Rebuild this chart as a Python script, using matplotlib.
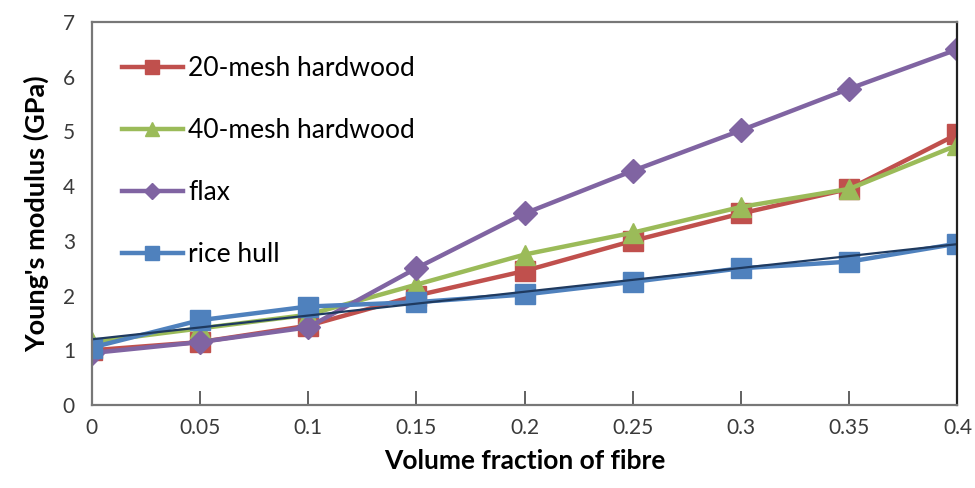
import matplotlib
matplotlib.use("Agg")
import matplotlib.pyplot as plt

fraction = [0, 0.05, 0.1, 0.15, 0.2, 0.25, 0.3, 0.35, 0.4]
mesh20 = [1.0, 1.15, 1.45, 2.0, 2.45, 3.0, 3.5, 3.95, 4.95]
mesh40 = [1.15, 1.4, 1.65, 2.2, 2.75, 3.15, 3.62, 3.95, 4.75]
flax = [0.95, 1.15, 1.42, 2.5, 3.5, 4.28, 5.02, 5.78, 6.5]
rice_hull = [1.05, 1.55, 1.8, 1.88, 2.02, 2.25, 2.5, 2.62, 2.95]
# linear trendline for rice hull
trend_x = [0, 0.4]
trend_y = [1.2, 2.94]

plt.rcParams['font.family'] = ['Lato', 'DejaVu Sans']

fig = plt.figure(figsize=(9.75, 4.88), dpi=100)
ax = fig.add_axes([0.094, 0.170, 0.888, 0.785])

ax.plot(fraction, mesh20, color='#C0504D', lw=3.2, marker='s', ms=14, label='20-mesh hardwood')
ax.plot(fraction, mesh40, color='#9BBB59', lw=3.2, marker='^', ms=15, label='40-mesh hardwood')
ax.plot(fraction, flax, color='#8064A2', lw=3.2, marker='D', ms=12, label='flax')
ax.plot(fraction, rice_hull, color='#4F81BD', lw=3.2, marker='s', ms=15, label='rice hull')
ax.plot(trend_x, trend_y, color='#1F3A5F', lw=1.6)

ax.set_xlim(0, 0.4)
ax.set_ylim(0, 7)
ax.set_xticks(fraction)
ax.set_xticklabels(['0', '0.05', '0.1', '0.15', '0.2', '0.25', '0.3', '0.35', '0.4'])
ax.set_yticks(range(8))
ax.tick_params(axis='x', direction='in', length=10, width=1.3, colors='#555555',
               labelsize=15, labelcolor='#3a3a3a', pad=9)
ax.tick_params(axis='y', length=0, labelsize=15, labelcolor='#3a3a3a', pad=12)
for side in ['left', 'bottom', 'top']:
    ax.spines[side].set_color('#777777')
    ax.spines[side].set_linewidth(1.6)
ax.spines['right'].set_color('#222222')
ax.spines['right'].set_linewidth(1.6)

ax.set_xlabel('Volume fraction of fibre', fontsize=19, fontweight='bold', labelpad=8)
ax.set_ylabel("Young's modulus (GPa)", fontsize=19.5, fontweight='bold', labelpad=10)

ax.legend(loc='upper left', bbox_to_anchor=(0.035, 0.91), frameon=False, fontsize=19,
          handlelength=2.3, labelspacing=1.4, handletextpad=0.2, borderpad=0,
          borderaxespad=0, markerscale=0.7)

fig.savefig('out.png', dpi=100)
